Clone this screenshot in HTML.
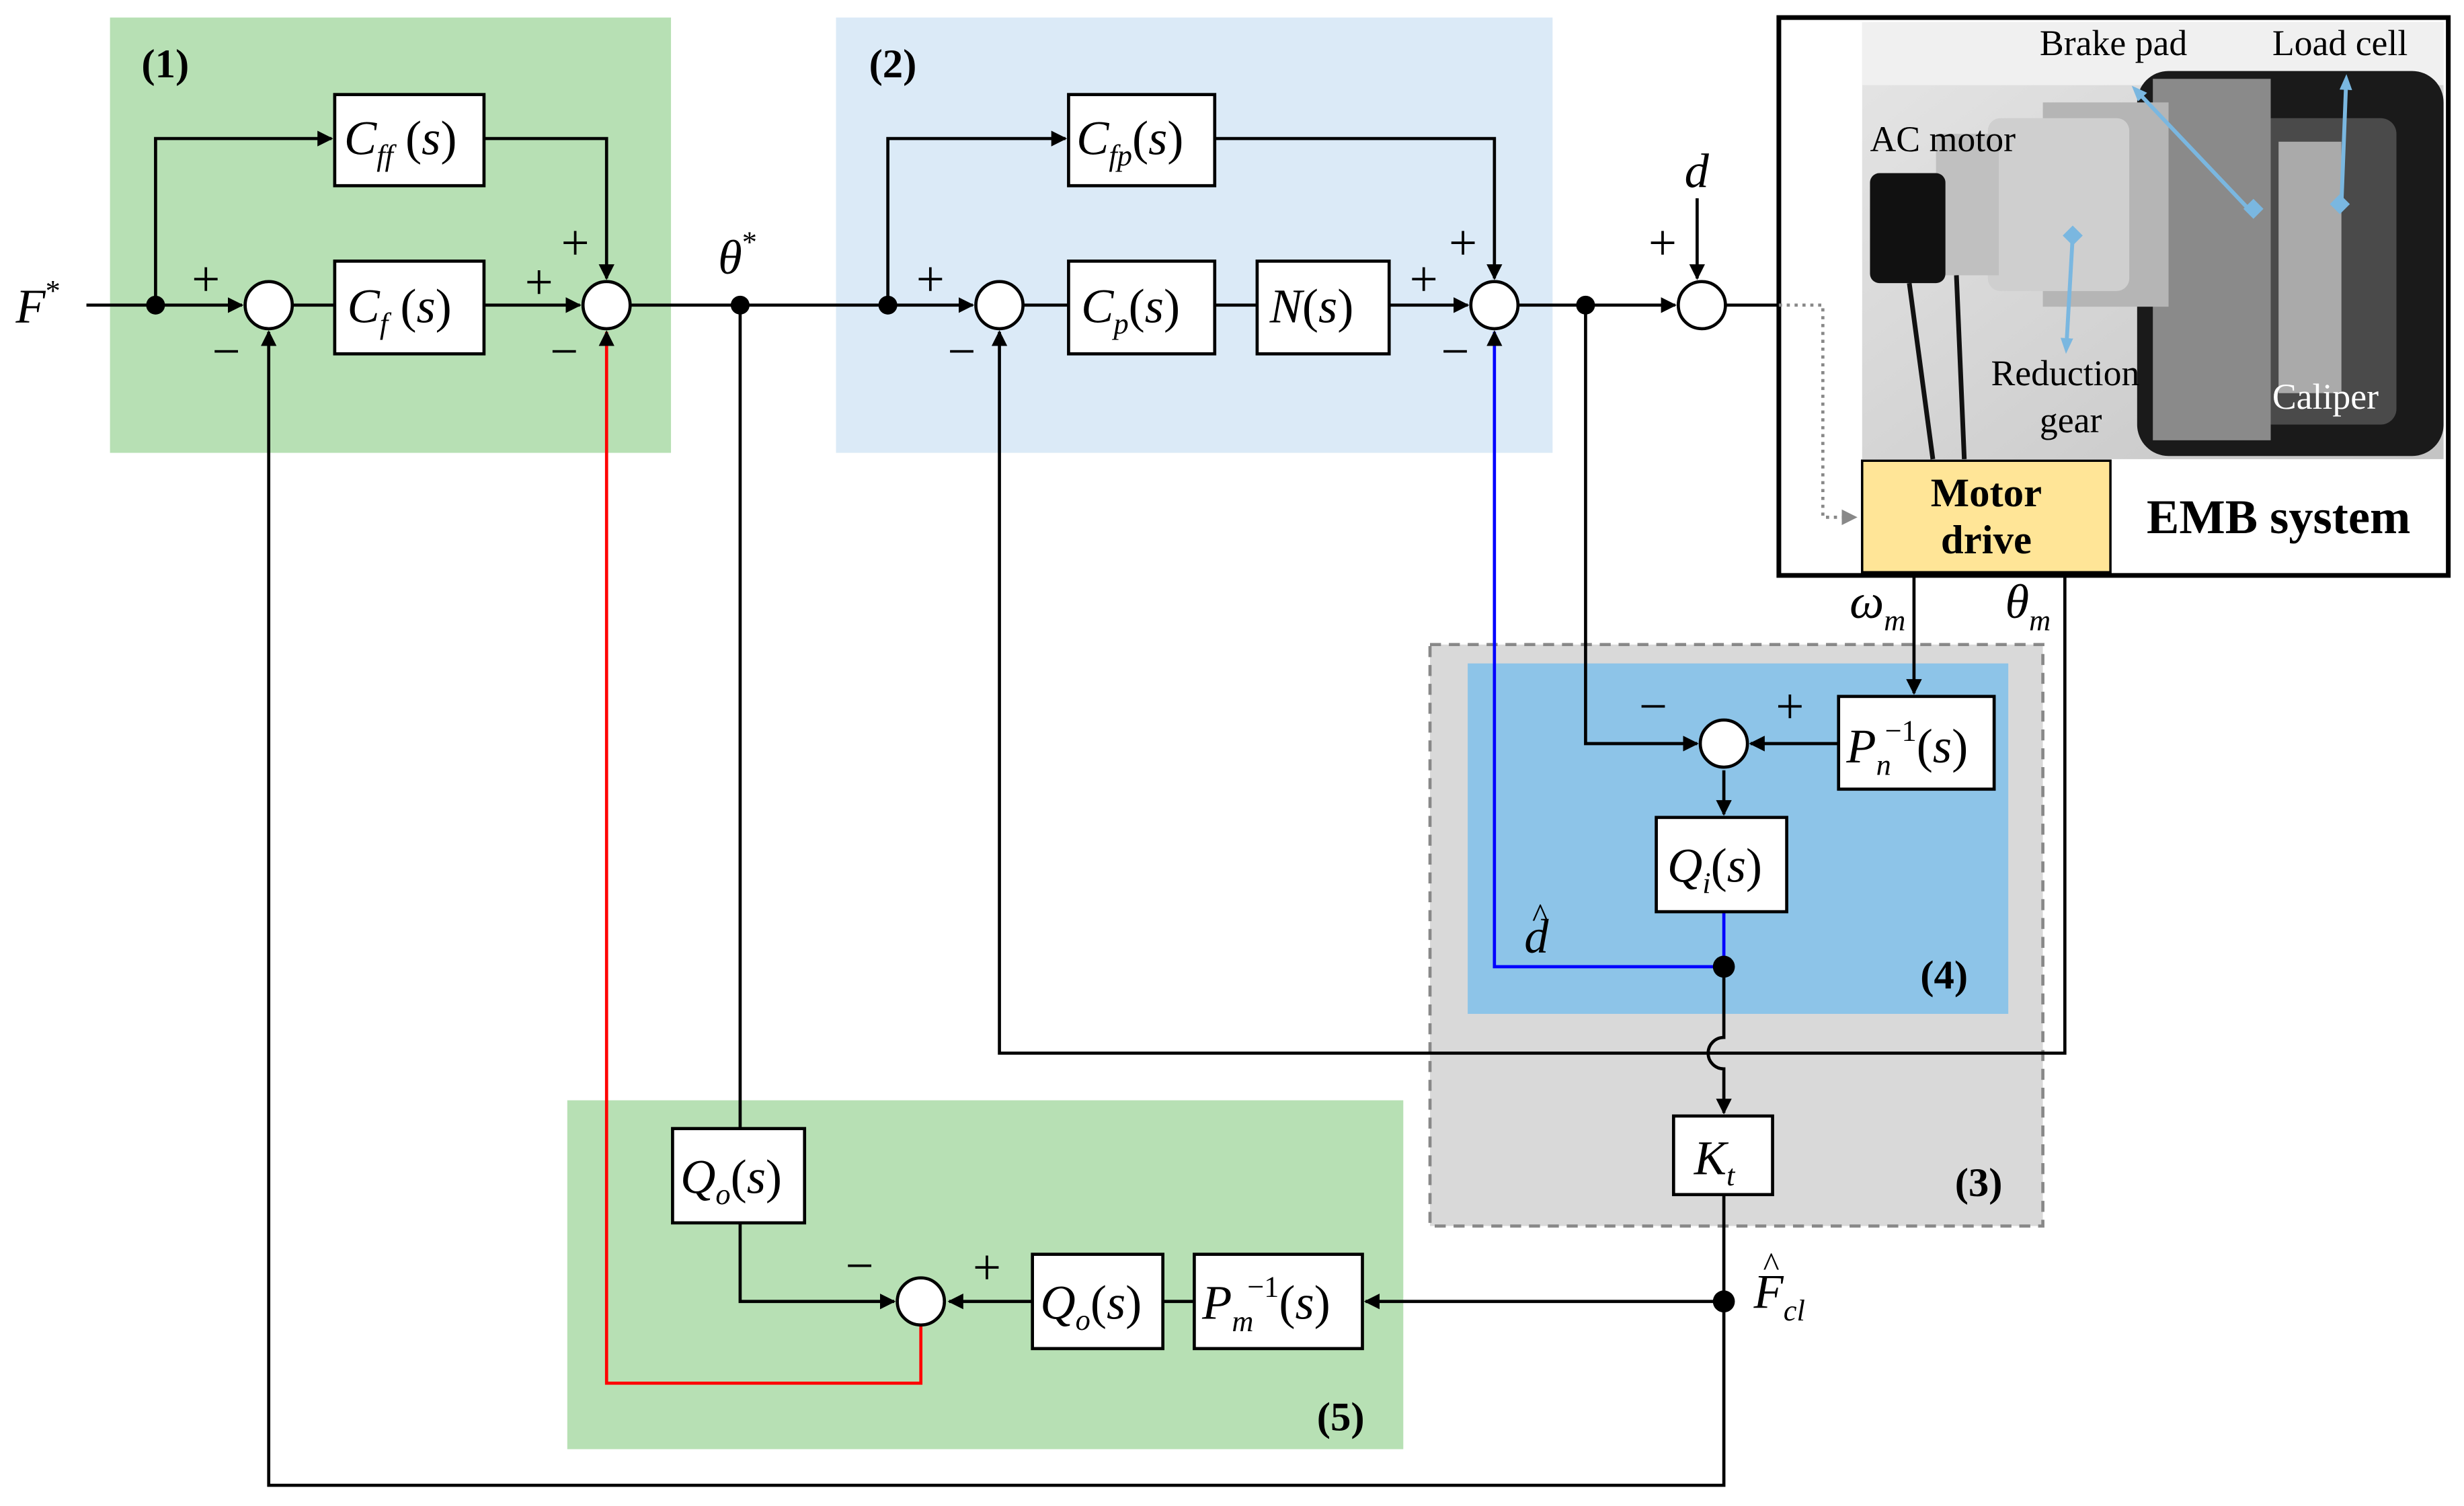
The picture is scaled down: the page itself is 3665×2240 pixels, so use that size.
<!DOCTYPE html>
<html><head><meta charset="utf-8"><style>
html,body{margin:0;padding:0;background:#fff}
svg{display:block}
.t{font-family:"Liberation Serif",serif;font-style:italic;font-size:31px;fill:#000}
.s{font-family:"Liberation Serif",serif;font-size:32px;fill:#000}
.b{font-family:"Liberation Serif",serif;font-weight:bold;font-size:26px;fill:#000}
.p{font-family:"Liberation Serif",serif;font-size:23px}
</style></head><body>
<svg width="3665" height="2240" viewBox="0 0 1568 958" xmlns="http://www.w3.org/2000/svg">
<defs>
<marker id="a" markerWidth="10" markerHeight="10" refX="9" refY="5" orient="auto" markerUnits="userSpaceOnUse" viewBox="0 0 10 10"><path d="M0,0 L10,5 L0,10 z" fill="#000"/></marker>
<marker id="g" markerWidth="10" markerHeight="10" refX="9" refY="5" orient="auto" markerUnits="userSpaceOnUse" viewBox="0 0 10 10"><path d="M0,0 L10,5 L0,10 z" fill="#888"/></marker>
<marker id="lb" markerWidth="10" markerHeight="10" refX="5" refY="5" orient="auto" markerUnits="userSpaceOnUse" viewBox="0 0 10 10"><path d="M0,1 L10,5 L0,9 z" fill="#7ab7e0"/></marker>
<linearGradient id="bg" x1="0" y1="0" x2="1" y2="1"><stop offset="0" stop-color="#e6e6e6"/><stop offset="1" stop-color="#c4c4c4"/></linearGradient>
</defs>
<!-- regions -->
<rect x="70" y="11" width="357" height="277" fill="#b7e0b4"/>
<rect x="532" y="11" width="456" height="277" fill="#dbeaf7"/>
<rect x="910" y="410" width="390" height="370" fill="#d9d9d9" stroke="#888" stroke-width="2" stroke-dasharray="7,5"/>
<rect x="934" y="422" width="344" height="223" fill="#8dc4e8"/>
<rect x="361" y="700" width="532" height="222" fill="#b7e0b4"/>
<text class="b" x="90" y="49">(1)</text>
<text class="b" x="553" y="49">(2)</text>
<text class="b" x="1222" y="629">(4)</text>
<text class="b" x="1244" y="761">(3)</text>
<text class="b" x="838" y="910">(5)</text>

<!-- EMB photo -->
<rect x="1132" y="11" width="426" height="355" fill="#fff" stroke="#000" stroke-width="3"/>
<rect x="1185" y="14" width="370" height="278" fill="url(#bg)"/>
<rect x="1185" y="14" width="370" height="40" fill="#f0f0f0"/>
<rect x="1360" y="45" width="195" height="245" fill="#1a1a1a" rx="20"/>
<rect x="1415" y="75" width="110" height="195" fill="#4a4a4a" rx="10"/>
<rect x="1450" y="90" width="40" height="160" fill="#aaa"/>
<rect x="1370" y="50" width="75" height="230" fill="#8a8a8a"/>
<rect x="1300" y="65" width="80" height="130" fill="#b5b5b5"/>
<rect x="1265" y="75" width="90" height="110" fill="#cfcfcf" rx="8"/>
<rect x="1232" y="85" width="40" height="90" fill="#c0c0c0"/>
<rect x="1190" y="110" width="48" height="70" fill="#111" rx="6"/>
<path d="M1215,180 L1230,292 M1245,175 L1250,292" stroke="#111" stroke-width="3" fill="none"/>
<line x1="1433" y1="135" x2="1360" y2="58" stroke="#7ab7e0" stroke-width="2.5" marker-end="url(#lb)"/>
<line x1="1490" y1="130" x2="1493" y2="52" stroke="#7ab7e0" stroke-width="2.5" marker-end="url(#lb)"/>
<line x1="1319" y1="150" x2="1315" y2="220" stroke="#7ab7e0" stroke-width="2.5" marker-end="url(#lb)"/>
<rect x="1430" y="128" width="9" height="9" fill="#7ab7e0" transform="rotate(45 1434 132)"/>
<rect x="1485" y="125" width="9" height="9" fill="#7ab7e0" transform="rotate(45 1489 129)"/>
<rect x="1315" y="145" width="9" height="9" fill="#7ab7e0" transform="rotate(45 1319 149)"/>
<text class="p" x="1298" y="35">Brake pad</text>
<text class="p" x="1446" y="35">Load cell</text>
<text class="p" x="1190" y="96">AC motor</text>
<text class="p" x="1267" y="245">Reduction</text>
<text class="p" x="1298" y="275">gear</text>
<text class="p" x="1446" y="260" fill="#fff">Caliper</text>
<rect x="1185" y="293" width="158" height="71" fill="#ffe597" stroke="#000" stroke-width="1.5"/>
<text class="b" x="1264" y="322" text-anchor="middle">Motor</text>
<text class="b" x="1264" y="352" text-anchor="middle">drive</text>
<text class="b" x="1450" y="339" text-anchor="middle" style="font-size:31px">EMB system</text>

<g stroke="#000" stroke-width="2" fill="none">
<line x1="55" y1="194" x2="154" y2="194" marker-end="url(#a)"/>
<polyline points="99,194 99,88 211,88" marker-end="url(#a)"/>
<line x1="186" y1="194" x2="213" y2="194"/>
<line x1="308" y1="194" x2="369" y2="194" marker-end="url(#a)"/>
<polyline points="308,88 386,88 386,177" marker-end="url(#a)"/>
<line x1="401" y1="194" x2="619" y2="194" marker-end="url(#a)"/>
<polyline points="565,194 565,88 678,88" marker-end="url(#a)"/>
<line x1="651" y1="194" x2="680" y2="194"/>
<line x1="773" y1="194" x2="800" y2="194"/>
<line x1="884" y1="194" x2="934" y2="194" marker-end="url(#a)"/>
<polyline points="773,88 951,88 951,177" marker-end="url(#a)"/>
<line x1="966" y1="194" x2="1066" y2="194" marker-end="url(#a)"/>
<line x1="1080" y1="126" x2="1080" y2="177" marker-end="url(#a)"/>
<line x1="1098" y1="194" x2="1132" y2="194"/>
<polyline points="1097,828 1097,945 171,945 171,211" marker-end="url(#a)"/>
<polyline points="1314,366 1314,670 636,670 636,211" marker-end="url(#a)"/>
<line x1="1218" y1="366" x2="1218" y2="441" marker-end="url(#a)"/>
<polyline points="1009,194 1009,473 1080,473" marker-end="url(#a)"/>
<line x1="1170" y1="473" x2="1114" y2="473" marker-end="url(#a)"/>
<line x1="1097" y1="490" x2="1097" y2="518" marker-end="url(#a)"/>
<path d="M1097,615 L1097,660 A10,10 0 0 0 1097,680 L1097,708" marker-end="url(#a)"/>
<line x1="1097" y1="760" x2="1097" y2="828"/>
<line x1="1097" y1="828" x2="869" y2="828" marker-end="url(#a)"/>
<line x1="760" y1="828" x2="740" y2="828"/>
<line x1="657" y1="828" x2="604" y2="828" marker-end="url(#a)"/>
<line x1="471" y1="194" x2="471" y2="718"/>
<polyline points="471,778 471,828 569,828" marker-end="url(#a)"/>
</g>
<line x1="1097" y1="580" x2="1097" y2="615" stroke="#00f" stroke-width="2"/>
<polyline points="1097,615 951,615 951,211" stroke="#00f" stroke-width="2" fill="none" marker-end="url(#a)"/>
<polyline points="586,843 586,880 386,880 386,211" stroke="#f00" stroke-width="2" fill="none" marker-end="url(#a)"/>
<polyline points="1132,194 1160,194 1160,329 1181,329" stroke="#888" stroke-width="2" stroke-dasharray="2,3" fill="none" marker-end="url(#g)"/>

<g fill="#000"><circle cx="99" cy="194" r="6"/><circle cx="471" cy="194" r="6"/><circle cx="565" cy="194" r="6"/><circle cx="1009" cy="194" r="6"/><circle cx="1097" cy="615" r="7"/><circle cx="1097" cy="828" r="7"/></g>
<g fill="#fff" stroke="#000" stroke-width="2">
<circle cx="171" cy="194" r="15"/><circle cx="386" cy="194" r="15"/><circle cx="636" cy="194" r="15"/><circle cx="951" cy="194" r="15"/><circle cx="1083" cy="194" r="15"/><circle cx="1097" cy="473" r="15"/><circle cx="586" cy="828" r="15"/>
<rect x="213" y="60" width="95" height="58"/><rect x="213" y="166" width="95" height="59"/>
<rect x="680" y="60" width="93" height="58"/><rect x="680" y="166" width="93" height="59"/><rect x="800" y="166" width="84" height="59"/>
<rect x="1170" y="443" width="99" height="59"/><rect x="1054" y="520" width="83" height="60"/><rect x="1065" y="710" width="63" height="50"/>
<rect x="428" y="718" width="84" height="60"/><rect x="657" y="798" width="83" height="60"/><rect x="760" y="798" width="107" height="60"/>
</g>
<text class="t" x="219" y="98">C<tspan font-size="19" dy="7">ff</tspan><tspan dy="-7" font-style="normal"> (</tspan>s<tspan font-style="normal">)</tspan></text>
<text class="t" x="221" y="205">C<tspan font-size="19" dy="7">f</tspan><tspan dy="-7" font-style="normal"> (</tspan>s<tspan font-style="normal">)</tspan></text>
<text class="t" x="685" y="98">C<tspan font-size="19" dy="7">fp</tspan><tspan dy="-7" font-style="normal">(</tspan>s<tspan font-style="normal">)</tspan></text>
<text class="t" x="688" y="205">C<tspan font-size="19" dy="7">p</tspan><tspan dy="-7" font-style="normal">(</tspan>s<tspan font-style="normal">)</tspan></text>
<text class="t" x="808" y="205">N<tspan font-style="normal">(</tspan>s<tspan font-style="normal">)</tspan></text>
<text class="t" x="1175" y="485">P<tspan font-size="19" dy="8">n</tspan><tspan font-size="19" font-style="normal" dy="-22" dx="-4">−1</tspan><tspan dy="14" font-style="normal">(</tspan>s<tspan font-style="normal">)</tspan></text>
<text class="t" x="1061" y="561">Q<tspan font-size="19" dy="7">i</tspan><tspan dy="-7" font-style="normal">(</tspan>s<tspan font-style="normal">)</tspan></text>
<text class="t" x="1078" y="747">K<tspan font-size="19" dy="7">t</tspan></text>
<text class="t" x="433" y="759">Q<tspan font-size="19" dy="7">o</tspan><tspan dy="-7" font-style="normal">(</tspan>s<tspan font-style="normal">)</tspan></text>
<text class="t" x="662" y="839">Q<tspan font-size="19" dy="7">o</tspan><tspan dy="-7" font-style="normal">(</tspan>s<tspan font-style="normal">)</tspan></text>
<text class="t" x="765" y="839">P<tspan font-size="19" dy="8">m</tspan><tspan font-size="19" font-style="normal" dy="-22" dx="-4">−1</tspan><tspan dy="14" font-style="normal">(</tspan>s<tspan font-style="normal">)</tspan></text>
<text class="t" x="10" y="205">F<tspan font-size="19" font-style="normal" dy="-14">*</tspan></text>
<text class="t" x="457" y="174">θ<tspan font-size="19" font-style="normal" dy="-14">*</tspan></text>
<text class="t" x="1072" y="119">d</text>
<text class="t" x="1177" y="393">ω<tspan font-size="19" dy="8">m</tspan></text>
<text class="t" x="1276" y="393">θ<tspan font-size="19" dy="8">m</tspan></text>
<text class="t" x="970" y="606">d</text><text class="s" x="975" y="590" style="font-size:22px">^</text>
<text class="t" x="1116" y="832">F<tspan font-size="19" dy="8">cl</tspan></text><text class="s" x="1122" y="812" style="font-size:22px">^</text>
<g class="s">
<text x="122" y="188">+</text><text x="135" y="234">−</text>
<text x="334" y="190">+</text><text x="357" y="165">+</text><text x="350" y="234">−</text>
<text x="583" y="188">+</text><text x="603" y="234">−</text>
<text x="897" y="188">+</text><text x="922" y="165">+</text><text x="917" y="234">−</text>
<text x="1049" y="165">+</text>
<text x="1043" y="460">−</text><text x="1130" y="460">+</text>
<text x="538" y="816">−</text><text x="619" y="817">+</text>
</g>
</svg>
</body></html>
